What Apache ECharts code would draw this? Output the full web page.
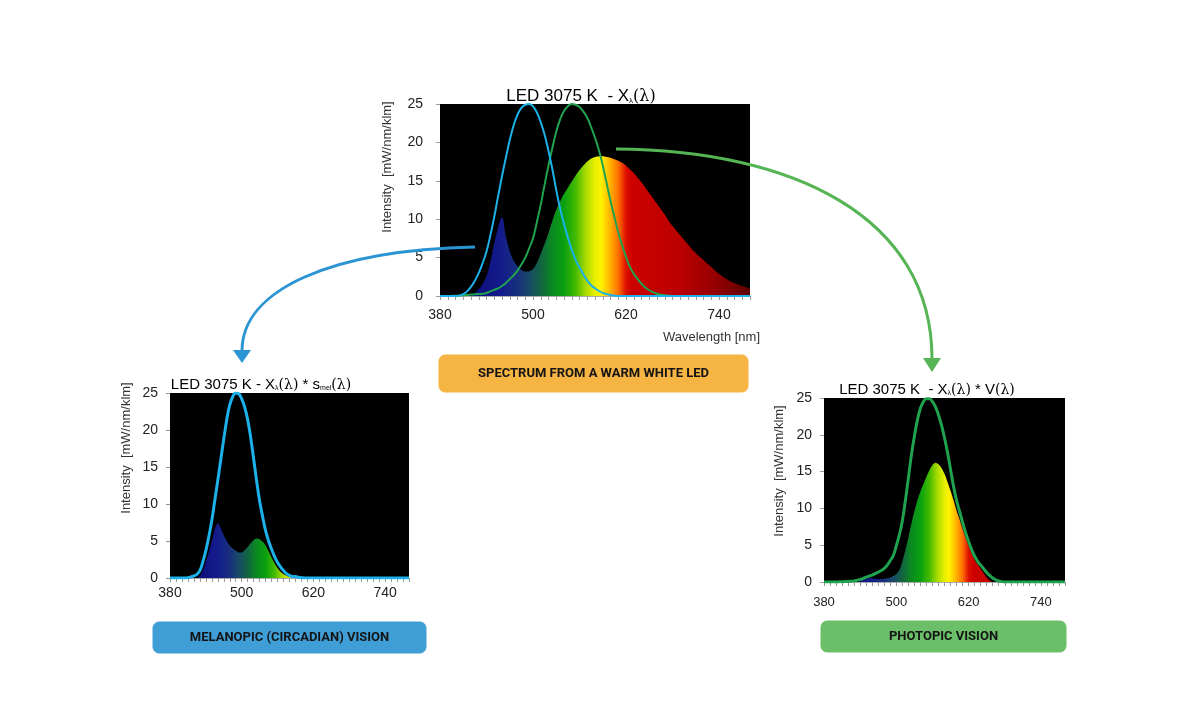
<!DOCTYPE html>
<html><head><meta charset="utf-8">
<script src="https://cdn.jsdelivr.net/npm/echarts@6/dist/echarts.min.js"></script>
<style>html,body{margin:0;padding:0;background:#fff}#c{width:1200px;height:703px}</style>
</head><body><div id="c"></div>
<script>
// wavelength grid (nm)
const wavelengths = [
 380,385,390,395,400,405,410,415, 420,425,430,435,440,445,450,455,
 460,465,470,475,480,485,490,495, 500,505,510,515,520,525,530,535,
 540,545,550,555,560,565,570,575, 580,585,590,595,600,605,610,615,
 620,625,630,635,640,645,650,655, 660,665,670,675,680,685,690,695,
 700,705,710,715,720,725,730,735, 740,745,750,755,760,765,770,775, 780];
// LED 3075 K spectrum X(λ)
const ledSpectrum = [
 0,0,0,0,0,0,0,0, 0.05,0.4,0.9,1.6,2.6,4.4,6.9,9.0,
 10.3,7.7,5.8,4.6,3.9,3.4,3.2,3.2, 3.5,4.3,5.5,6.8,8.2,9.8,11.2,12.3,
 13.3,14.1,14.9,15.7,16.4,17.0,17.5,17.9, 18.1,18.2,18.2,18.1,18.0,17.8,17.6,17.35,
 17.0,16.5,16.0,15.4,14.8,14.1,13.4,12.7, 12.0,11.3,10.6,9.8,9.1,8.5,7.9,7.3,
 6.7,6.1,5.6,5.1,4.7,4.2,3.8,3.3, 2.9,2.5,2.2,1.9,1.7,1.5,1.3,1.15, 1.0];
// s_mel(λ) as drawn on the top chart
const smelTop = [
 0,0,0,0,0,0.05,0.25,0.6, 1.2,2.0,3.0,4.3,5.8,7.9,10.3,13.0,
 15.6,18.0,20.3,22.2,23.6,24.5,24.9,25.0, 24.7,23.9,22.6,21.0,18.9,16.5,13.8,11.4,
 9.4,7.6,6.0,4.7,3.7,2.8,2.0,1.4, 1.0,0.65,0.4,0.25,0.12,0.05,0,0,
 0,0,0,0,0,0,0,0, 0,0,0,0,0,0,0,0,
 0,0,0,0,0,0,0,0, 0,0,0,0,0,0,0,0, 0];
// V(λ) as drawn on the top chart
const vTop = [
 0,0,0,0.02,0.04,0.06,0.1,0.14, 0.18,0.22,0.26,0.3,0.4,0.6,0.8,1.0,
 1.3,1.7,2.2,2.7,3.3,4.1,5.0,6.2, 7.5,9.6,11.9,14.5,17.0,19.3,21.4,23.0,
 24.1,24.7,25.0,24.9,24.6,24.0,23.2,22.0, 20.6,19.0,17.0,14.7,12.4,10.3,8.3,6.6,
 5.1,3.8,2.9,2.2,1.6,1.1,0.75,0.5, 0.3,0.18,0.1,0.05,0,0,0,0,
 0,0,0,0,0,0,0,0, 0,0,0,0,0,0,0,0, 0];
// s_mel(λ) on the melanopic chart
const smelMel = [
 0,0,0,0,0,0,0.05,0.15, 0.3,0.5,1.0,2.2,3.7,5.6,7.8,10.5,
 13.2,16.0,18.8,21.4,23.4,24.5,25.0,24.9, 24.2,23.1,21.4,19.0,16.1,13.1,10.4,8.3,
 6.4,5.0,3.9,2.9,2.1,1.5,1.0,0.6, 0.35,0.2,0.2,0.1,0.05,0,0,0,
 0,0,0,0,0,0,0,0, 0,0,0,0,0,0,0,0,
 0,0,0,0,0,0,0,0, 0,0,0,0,0,0,0,0, 0];
// X(λ) * s_mel(λ)
const melanopicSpectrum = [
 0,0,0,0,0,0,0,0, 0,0,0.3,1.0,2.2,3.5,5.0,6.6,
 7.4,6.7,5.8,5.0,4.4,4.0,3.7,3.45, 3.45,3.8,4.2,4.7,5.15,5.35,5.25,4.9,
 4.4,3.6,2.75,2.0,1.35,0.85,0.5,0.3, 0.12,0.05,0,0,0,0,0,0,
 0,0,0,0,0,0,0,0, 0,0,0,0,0,0,0,0,
 0,0,0,0,0,0,0,0, 0,0,0,0,0,0,0,0, 0];
// V(λ) on the photopic chart
const vPho = [
 0,0,0,0,0,0.02,0.04,0.06, 0.08,0.1,0.15,0.25,0.35,0.5,0.65,0.8,
 0.95,1.15,1.35,1.55,1.85,2.3,2.9,3.6, 4.9,6.4,8.3,11.0,14.1,17.2,19.8,22.0,
 23.6,24.5,24.9,24.9,24.5,23.8,22.7,21.3, 19.6,17.6,15.3,13.0,11.1,9.6,8.1,6.7,
 5.5,4.4,3.5,2.8,2.3,1.8,1.3,0.9, 0.55,0.3,0.15,0.05,0,0,0,0,
 0,0,0,0,0,0,0,0, 0,0,0,0,0,0,0,0, 0];
// X(λ) * V(λ)
const photopicSpectrum = [
 0,0,0,0,0,0,0,0, 0,0,0,0,0.15,0.35,0.45,0.5,
 0.5,0.45,0.4,0.4,0.45,0.5,0.6,0.8, 1.1,1.6,2.8,4.3,6.0,7.9,9.6,11.1,
 12.3,13.3,14.3,15.2,15.9,16.2,16.0,15.5, 14.7,13.6,12.4,11.1,9.7,8.5,7.2,6.0,
 4.9,3.9,3.0,2.4,1.8,1.2,0.6,0.2, 0,0,0,0,0,0,0,0,
 0,0,0,0,0,0,0,0, 0,0,0,0,0,0,0,0, 0];
const xTickLabels = [380, 500, 620, 740];
const yTicks = {min: 0, max: 25, step: 5};

function pairs(arr) { return wavelengths.map((w, i) => [w, arr[i]]); }

const rainbow = {
  type: 'linear', x: 0, y: 0, x2: 1, y2: 0,
  colorStops: [
    {offset: 0.10, color: '#0c0c78'}, {offset: 0.20, color: '#141c8c'},
    {offset: 0.25, color: '#18307c'}, {offset: 0.2875, color: '#184a68'},
    {offset: 0.325, color: '#126440'}, {offset: 0.3625, color: '#0b8a20'},
    {offset: 0.40, color: '#0aa010'}, {offset: 0.4375, color: '#44ba00'},
    {offset: 0.47, color: '#a8da00'}, {offset: 0.50, color: '#e6f000'},
    {offset: 0.52, color: '#fff200'}, {offset: 0.55, color: '#ffb000'},
    {offset: 0.575, color: '#ff7000'}, {offset: 0.60, color: '#dd1000'},
    {offset: 0.62, color: '#cc0000'}, {offset: 0.775, color: '#bb0000'},
    {offset: 0.90, color: '#900000'}, {offset: 1.0, color: '#5a0000'}
  ]
};

const FONT = 'Liberation Sans, Arial, sans-serif';
const grids = [
  {left: 440, top: 104, width: 310, height: 192},
  {left: 170, top: 393, width: 239, height: 185},
  {left: 824, top: 398, width: 241, height: 184}
].map(g => Object.assign(g, {show: true, backgroundColor: '#000', borderWidth: 0}));

function xAx(gi, fs, margin) {
  return {type: 'value', gridIndex: gi, min: 380, max: 780, interval: 10,
    axisLine: {show: true, lineStyle: {color: '#aaa'}},
    axisTick: {show: true, length: 4, lineStyle: {color: '#999'}},
    splitLine: {show: false},
    axisLabel: {fontSize: fs, color: '#222', margin: margin, fontFamily: FONT,
      formatter: v => (xTickLabels.indexOf(v) >= 0 ? String(v) : '')}};
}
function yAx(gi, fs, margin) {
  return {type: 'value', gridIndex: gi, min: yTicks.min, max: yTicks.max, interval: yTicks.step,
    axisLine: {show: false},
    axisTick: {show: true, length: 4, lineStyle: {color: '#999'}},
    splitLine: {show: false},
    axisLabel: {fontSize: fs, color: '#222', margin: margin, fontFamily: FONT}};
}
function area(gi, arr) {
  return {type: 'line', xAxisIndex: gi, yAxisIndex: gi, data: pairs(arr), symbol: 'none',
    smooth: 0.3, lineStyle: {width: 0}, areaStyle: {color: rainbow, opacity: 1}, z: 2};
}
function curve(gi, arr, color, w, z) {
  return {type: 'line', xAxisIndex: gi, yAxisIndex: gi, data: pairs(arr), symbol: 'none',
    smooth: 0.45, lineStyle: {color: color, width: w}, z: z};
}
const CYAN = '#1db1e9', GREEN = '#1fa34f';

function txt(x, y, text, rich, extra) {
  return Object.assign({type: 'text', x: x, y: y, z: 100,
    style: {text: text, rich: rich, textAlign: 'center', textVerticalAlign: 'middle', fontFamily: FONT}}, extra || {});
}
const titleRich = {
  t: {fontSize: 17, color: '#111', fontFamily: FONT, lineHeight: 20, verticalAlign: 'bottom'},
  s: {fontSize: 8, color: '#666', fontFamily: FONT, lineHeight: 14, verticalAlign: 'bottom'},
  l: {fontSize: 16, color: '#444', fontFamily: 'DejaVu Serif', lineHeight: 20, verticalAlign: 'bottom'}
};
const titleRichSm = {
  t: {fontSize: 15, color: '#111', fontFamily: FONT, lineHeight: 18, verticalAlign: 'bottom'},
  s: {fontSize: 7, color: '#666', fontFamily: FONT, lineHeight: 12, verticalAlign: 'bottom'},
  l: {fontSize: 14, color: '#444', fontFamily: 'DejaVu Serif', lineHeight: 18, verticalAlign: 'bottom'}
};
function labelRich(color, fs) {
  return {
    a: {fontSize: fs, color: color, fontFamily: FONT, lineHeight: fs + 4, verticalAlign: 'bottom'},
    b: {fontSize: Math.round(fs * 0.65), color: color, fontFamily: FONT, lineHeight: fs - 2, verticalAlign: 'bottom'}
  };
}
function yName(x, y) {
  return {type: 'text', x: x, y: y, rotation: Math.PI / 2, z: 100,
    style: {text: 'Intensity  [mW/nm/klm]', fontSize: 13, fill: '#333', fontFamily: FONT,
      textAlign: 'center', textVerticalAlign: 'middle'}};
}
function button(x, y, w, h, color, label) {
  return [
    {type: 'rect', shape: {x: x, y: y, width: w, height: h, r: 6}, z: 100,
      style: {fill: color, stroke: color, lineWidth: 1}},
    {type: 'text', x: x + w / 2, y: y + h / 2, z: 101,
      style: {text: label, fontSize: 13, fontWeight: 'bold', fill: '#141414', fontFamily: 'Roboto, sans-serif',
        textAlign: 'center', textVerticalAlign: 'middle'}}
  ];
}
const BLUE_ARROW = '#2b95d3', GREEN_ARROW = '#55b555';

const graphic = [
  txt(581, 95, '{t|LED 3075 K  - X}{s|λ}{l|(λ)}', titleRich),
  txt(261, 383, '{t|LED 3075 K - X}{s|λ}{l|(λ)}{t| * s}{s|mel}{l|(λ)}', titleRichSm),
  txt(927, 388, '{t|LED 3075 K  - X}{s|λ}{l|(λ)}{t| * V}{l|(λ)}', titleRichSm),
  yName(387, 167), yName(126, 448), yName(779, 471),
  {type: 'text', x: 760, y: 337, z: 100,
    style: {text: 'Wavelength [nm]', fontSize: 13, fill: '#333', fontFamily: FONT, textAlign: 'right', textVerticalAlign: 'middle'}},
  txt(475, 127, '{a|s}{b|mel}{a|(λ)}', labelRich(CYAN, 20)),
  txt(619, 127, '{a|V(λ)}', labelRich(GREEN, 20)),
  txt(289, 428, '{a|s}{b|mel}{a|(λ)}', labelRich(CYAN, 19)),
  txt(983, 440, '{a|V(λ)}', labelRich(GREEN, 19)),
  {type: 'bezierCurve', z: 90,
    shape: {x1: 475, y1: 247, cpx1: 330, cpy1: 250, cpx2: 242, cpy2: 290, x2: 242, y2: 351},
    style: {stroke: BLUE_ARROW, lineWidth: 3, fill: null}},
  {type: 'polygon', z: 91, shape: {points: [[233, 350], [251, 350], [242, 363]]}, style: {fill: BLUE_ARROW}},
  {type: 'bezierCurve', z: 90,
    shape: {x1: 616, y1: 149, cpx1: 790, cpy1: 150, cpx2: 932, cpy2: 215, x2: 932, y2: 359},
    style: {stroke: GREEN_ARROW, lineWidth: 3, fill: null}},
  {type: 'polygon', z: 91, shape: {points: [[923, 358], [941, 358], [932, 372]]}, style: {fill: GREEN_ARROW}}
].concat(
  button(439, 355, 309, 37, '#f6b443', 'SPECTRUM FROM A WARM WHITE LED'),
  button(153, 622, 273, 31, '#409ed6', 'MELANOPIC (CIRCADIAN) VISION'),
  button(821, 621, 245, 31, '#6bbf68', 'PHOTOPIC VISION')
);

const chart = echarts.init(document.getElementById('c'), null, {renderer: 'canvas'});
chart.setOption({
  animation: false,
  backgroundColor: '#fff',
  grid: grids,
  xAxis: [xAx(0, 14, 12), xAx(1, 14, 8), xAx(2, 13, 14)],
  yAxis: [yAx(0, 14, 17), yAx(1, 14, 12), yAx(2, 14, 12)],
  series: [
    area(0, ledSpectrum), curve(0, vTop, GREEN, 2, 3), curve(0, smelTop, CYAN, 2, 4),
    area(1, melanopicSpectrum), curve(1, smelMel, CYAN, 3, 4),
    area(2, photopicSpectrum), curve(2, vPho, GREEN, 3, 4)
  ],
  graphic: graphic
});
</script></body></html>
